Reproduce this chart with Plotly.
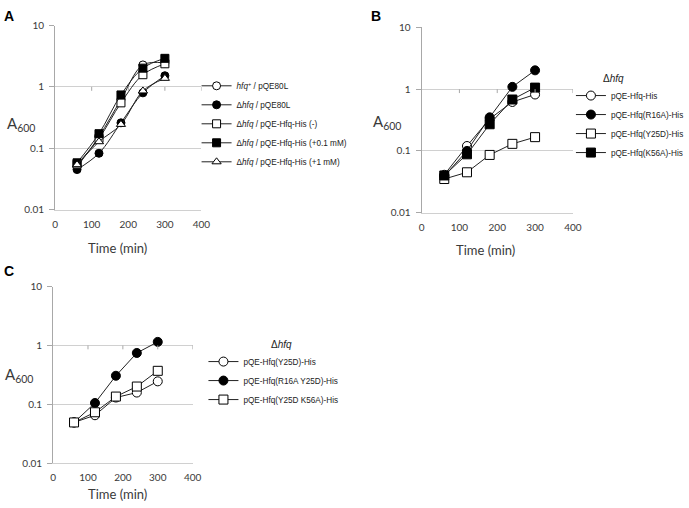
import plotly.graph_objects as go

W, H = 689, 508

# ---------------- data ----------------
time_min = [60, 120, 180, 240, 300]

# Panel A
a_names = [
    "<i>hfq</i><sup>+</sup> / pQE80L",
    "Δ<i>hfq</i> / pQE80L",
    "Δ<i>hfq</i> / pQE-Hfq-His (-)",
    "Δ<i>hfq</i> / pQE-Hfq-His (+0.1 mM)",
    "Δ<i>hfq</i> / pQE-Hfq-His (+1 mM)",
]
a_wt_pqe80l = [0.050, 0.155, 0.62, 2.28, 2.45]
a_dhfq_pqe80l = [0.045, 0.083, 0.26, 0.80, 1.52]
a_dhfq_his_none = [0.055, 0.145, 0.55, 1.58, 2.38]
a_dhfq_his_01 = [0.058, 0.173, 0.74, 2.02, 2.92]
a_dhfq_his_1 = [0.054, 0.128, 0.245, 0.86, 1.38]

# Panel B
b_names = ["pQE-Hfq-His", "pQE-Hfq(R16A)-His", "pQE-Hfq(Y25D)-His", "pQE-Hfq(K56A)-His"]
b_his = [0.041, 0.120, 0.33, 0.62, 0.82]
b_r16a = [0.039, 0.100, 0.35, 1.09, 2.02]
b_y25d = [0.035, 0.045, 0.086, 0.130, 0.167]
b_k56a = [0.040, 0.088, 0.27, 0.68, 1.06]

# Panel C
c_names = ["pQE-Hfq(Y25D)-His", "pQE-Hfq(R16A Y25D)-His", "pQE-Hfq(Y25D K56A)-His"]
c_y25d = [0.049, 0.065, 0.130, 0.158, 0.245]
c_r16a_y25d = [0.049, 0.105, 0.305, 0.745, 1.15]
c_y25d_k56a = [0.049, 0.073, 0.135, 0.200, 0.37]

x_ticks = [0, 100, 200, 300, 400]
y_ticks = [0.01, 0.1, 1, 10]
y_ticktext = ["0.01", "0.1", "1", "10"]

# ---------------- styles ----------------
OPEN_C = dict(symbol="circle", color="white")
FILL_C = dict(symbol="circle", color="black")
OPEN_S = dict(symbol="square", color="white")
FILL_S = dict(symbol="square", color="black")
OPEN_T = dict(symbol="triangle-up", color="white")

LEG_FONT = dict(family="Liberation Sans, Arial", size=8.2, color="#222222")
TICK_FONT = dict(family="Lato, Open Sans, sans-serif", size=10, color="#3a3a3a")
GRID = "#d0d0d0"
AXL = "#a8a8a8"

fig = go.Figure()


def add(xa, ya, leg, name, ys, mk, size, shape):
    fig.add_trace(go.Scatter(
        x=time_min, y=ys, name=name, mode="lines+markers",
        xaxis=xa, yaxis=ya, legend=leg, legendgroup=name,
        line=dict(color="#222222", width=1, shape=shape, smoothing=1.0),
        marker=dict(symbol=mk["symbol"], color=mk["color"], size=size,
                    line=dict(color="black", width=1)),
    ))


for name, ys, mk in zip(a_names,
                        [a_wt_pqe80l, a_dhfq_pqe80l, a_dhfq_his_none, a_dhfq_his_01, a_dhfq_his_1],
                        [OPEN_C, FILL_C, OPEN_S, FILL_S, OPEN_T]):
    add("x", "y", "legend", name, ys, mk, 8, "spline")

for name, ys, mk in zip(b_names, [b_his, b_r16a, b_y25d, b_k56a], [OPEN_C, FILL_C, OPEN_S, FILL_S]):
    add("x2", "y2", "legend2", name, ys, mk, 9, "linear")

for name, ys, mk in zip(c_names, [c_y25d, c_r16a_y25d, c_y25d_k56a], [OPEN_C, FILL_C, OPEN_S]):
    add("x3", "y3", "legend3", name, ys, mk, 9, "linear")


def px_x(p):
    return p / W


def px_y(p):
    return 1 - p / H


panels = {
    "": dict(x=(53, 202), y=(19, 208)),
    "2": dict(x=(426, 580), y=(21, 211)),
    "3": dict(x=(51, 193), y=(287, 468)),
}

layout = dict(
    width=W, height=H, margin=dict(l=0, r=0, t=0, b=0),
    paper_bgcolor="white", plot_bgcolor="white",
    showlegend=True,
)

shapes = []
for k, p in panels.items():
    layout["xaxis" + k] = dict(
        domain=[px_x(p["x"][0]), px_x(p["x"][1])], anchor="y" + k,
        range=[0, 400], tickvals=x_ticks, showgrid=False, zeroline=False,
        showline=True, linecolor=GRID, linewidth=1, ticks="", ticklabelstandoff=5,
        tickfont=TICK_FONT, fixedrange=True,
    )
    layout["yaxis" + k] = dict(
        domain=[px_y(p["y"][1]), px_y(p["y"][0])], anchor="x" + k,
        type="log", range=[-2, 1], tickvals=y_ticks, ticktext=y_ticktext,
        showgrid=True, gridcolor=GRID, gridwidth=1, zeroline=False,
        showline=True, linecolor=AXL, linewidth=1,
        ticks="outside", ticklen=5, tickcolor=AXL, tickfont=TICK_FONT,
        ticklabelstandoff=3, fixedrange=True,
    )
    # horizontal axis crosses at 1 (Excel style): small tick marks on that line
    frac1 = (0 - (-2)) / 3.0
    hpx = p["y"][1] - p["y"][0]
    for xv in x_ticks[1:]:
        shapes.append(dict(type="line", xref="x" + k, yref="y" + k + " domain",
                           x0=xv, x1=xv, y0=frac1, y1=frac1 - 4.0 / hpx,
                           line=dict(color=AXL, width=1)))

layout["shapes"] = shapes

LEG_COMMON = dict(xanchor="left", yanchor="top", font=LEG_FONT, bgcolor="rgba(0,0,0,0)",
                  tracegroupgap=0, traceorder="normal", itemclick=False, borderwidth=0)
layout["legend"] = dict(x=px_x(197), y=px_y(66), **LEG_COMMON)
layout["legend2"] = dict(x=px_x(578), y=px_y(76), **LEG_COMMON)
layout["legend3"] = dict(x=px_x(204), y=px_y(349), **LEG_COMMON)

TITLE_FONT = dict(family="Lato, Open Sans, sans-serif", size=13, color="#3a3a3a")
A600_FONT = dict(family="Lato, Open Sans, sans-serif", size=15, color="#3a3a3a")
LET_FONT = dict(family="Liberation Sans, Arial", size=14, color="black")

ann = []
for letter, xp, yp in [("A", 6, 9), ("B", 380, 9), ("C", 6, 271)]:
    ann.append(dict(text="<b>%s</b>" % letter, x=px_x(xp), y=px_y(yp), xref="paper", yref="paper",
                    showarrow=False, font=LET_FONT, xanchor="center", yanchor="middle"))
for xp, yp in [(2, 120), (375, 118), (0, 378)]:
    ann.append(dict(text="A<sub>600</sub>", x=px_x(xp), y=px_y(yp), xref="paper", yref="paper",
                    showarrow=False, font=A600_FONT, xanchor="left", yanchor="middle"))
for xp, yp in [(117, 247), (491, 249), (117, 500)]:
    ann.append(dict(text="Time (min)", x=px_x(xp), y=px_y(yp), xref="paper", yref="paper",
                    showarrow=False, font=TITLE_FONT, xanchor="center", yanchor="middle"))
for xp, yp in [(621, 73), (283, 346)]:
    ann.append(dict(text="Δ<i>hfq</i>", x=px_x(xp), y=px_y(yp), xref="paper", yref="paper",
                    showarrow=False, font=dict(family="Liberation Sans, Arial", size=10, color="#222222"),
                    xanchor="center", yanchor="middle"))
layout["annotations"] = ann

fig.update_layout(**layout)
fig.write_html("out.html", config={"displayModeBar": False},
               post_script="document.body.style.margin='0';document.body.style.overflow='hidden';")
